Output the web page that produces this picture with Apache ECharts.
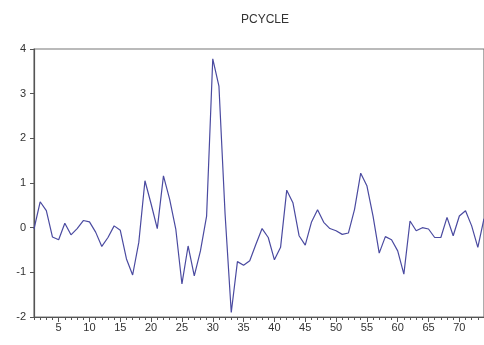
<!DOCTYPE html>
<html>
<head>
<meta charset="utf-8">
<script src="https://cdn.jsdelivr.net/npm/echarts@6/dist/echarts.min.js"></script>
<style>html,body{margin:0;padding:0;background:#fff;}#c{width:484px;height:345px;}</style>
</head>
<body>
<div id="c"></div>
<script>
var titleText = 'PCYCLE';
var periods = [];
for (var k = 1; k <= 74; k++) periods.push(String(k));
var pcycle = [
  -0.03, 0.58, 0.38, -0.21, -0.27, 0.10, -0.16, -0.02, 0.16, 0.13,
  -0.10, -0.42, -0.22, 0.04, -0.06, -0.70, -1.06, -0.33, 1.05, 0.53,
  -0.02, 1.16, 0.64, -0.03, -1.26, -0.41, -1.08, -0.52, 0.26, 3.78,
  3.17, 0.30, -1.90, -0.76, -0.84, -0.74, -0.37, -0.02, -0.22, -0.72,
  -0.44, 0.84, 0.56, -0.18, -0.39, 0.12, 0.40, 0.12, -0.02, -0.07,
  -0.15, -0.12, 0.41, 1.22, 0.94, 0.26, -0.57, -0.20, -0.27, -0.52,
  -1.04, 0.15, -0.07, 0.00, -0.03, -0.22, -0.22, 0.23, -0.18, 0.26,
  0.38, 0.04, -0.44, 0.20
];
var yMin = -2, yMax = 4, yStep = 1;

var chart = echarts.init(document.getElementById('c'), null, {renderer: 'canvas'});
var font = 'Liberation Sans, Arial, sans-serif';
chart.setOption({
  animation: false,
  backgroundColor: '#ffffff',
  title: {
    text: titleText, left: 260, top: 9, textAlign: 'center',
    textStyle: {fontFamily: font, fontSize: 12, fontWeight: 'normal', color: '#333'}
  },
  grid: {left: 34, right: -2.6, top: 49, bottom: 28, show: true, borderColor: '#777', borderWidth: 1.2, backgroundColor: 'transparent'},
  xAxis: [{
    type: 'category', data: periods, boundaryGap: false, position: 'bottom',
    axisLine: {show: true, onZero: false, lineStyle: {color: '#555', width: 1.2}},
    axisTick: {show: true, interval: 0, length: 3, lineStyle: {color: '#555'}},
    axisLabel: {
      interval: function (i) { return (i + 1) % 5 === 0; },
      margin: 5, fontFamily: font, fontSize: 11, color: '#333'
    },
    splitLine: {show: false}
  }, {
    type: 'category', data: periods, boundaryGap: false, position: 'bottom',
    axisLine: {show: false, onZero: false},
    axisTick: {show: true, interval: function (i) { return (i + 1) % 5 === 0; }, length: 5, lineStyle: {color: '#555'}},
    axisLabel: {show: false},
    splitLine: {show: false}
  }],
  yAxis: {
    type: 'value', min: yMin, max: yMax, interval: yStep,
    axisLine: {show: true, lineStyle: {color: '#555', width: 1.2}},
    axisTick: {show: true, length: 4, lineStyle: {color: '#555'}},
    axisLabel: {margin: 8, fontFamily: font, fontSize: 11, color: '#333'},
    splitLine: {show: false}
  },
  series: [{
    type: 'line', data: pcycle, xAxisIndex: 0, symbol: 'none', smooth: false,
    lineStyle: {color: '#4a4aa0', width: 1.2}
  }]
});
</script>
</body>
</html>
